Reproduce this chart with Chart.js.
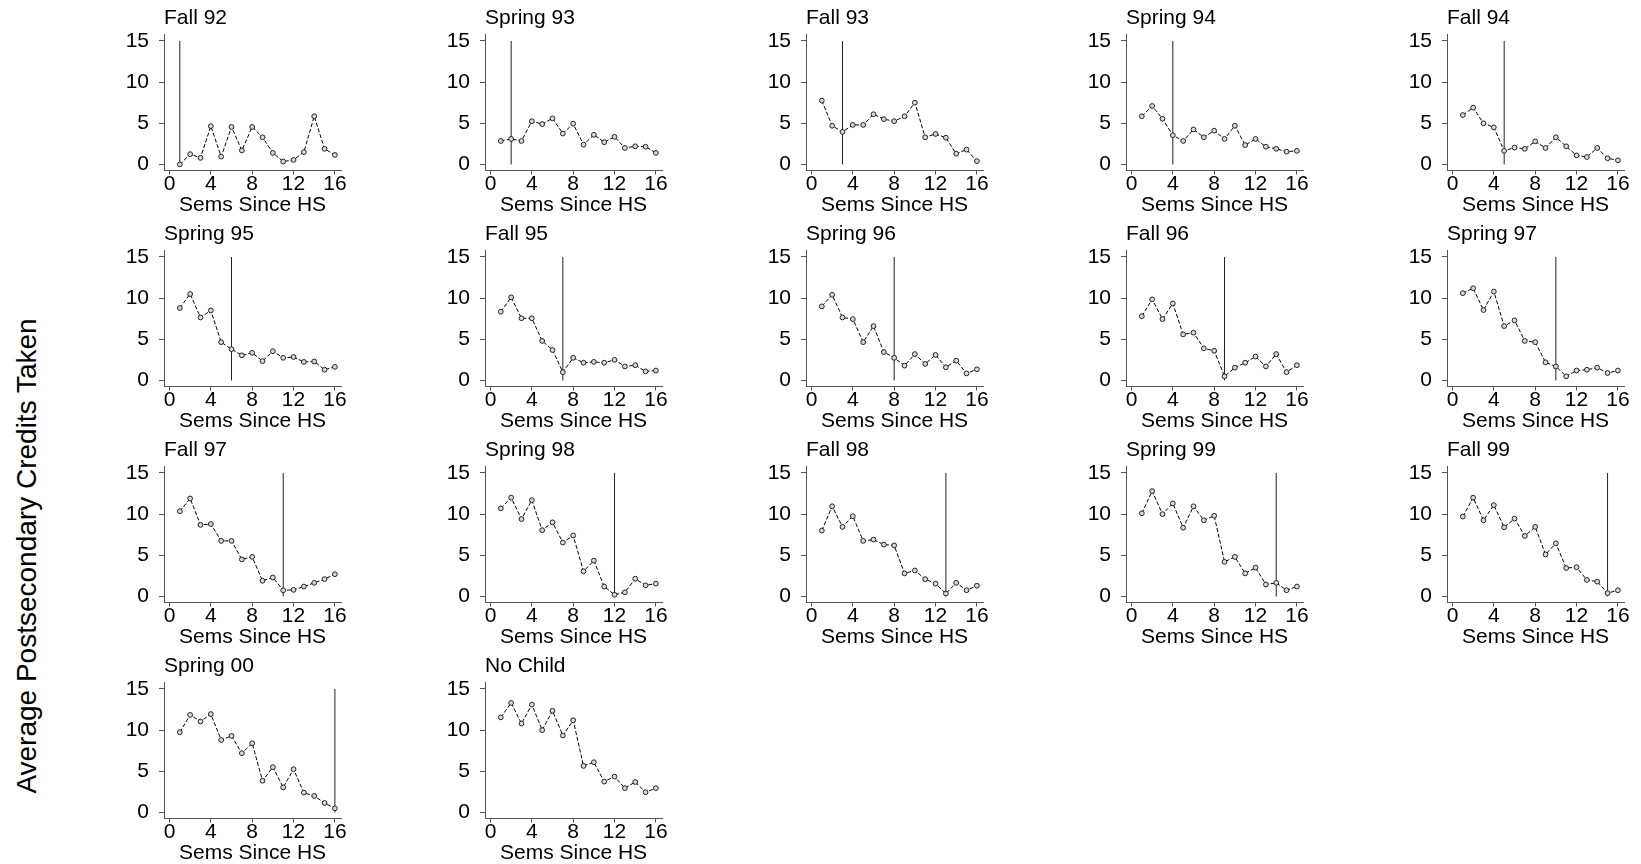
<!DOCTYPE html>
<html>
<head>
<meta charset="utf-8">
<title>Average Postsecondary Credits Taken</title>
<script src="https://cdn.jsdelivr.net/npm/chart.js@4.4.0/dist/chart.umd.min.js"></script>
<style>
  body { margin: 0; background: #fff; }
  #page {
    position: relative;
    width: 1641px;
    height: 864px;
    overflow: hidden;
    font-family: "Liberation Sans", Arial, sans-serif;
  }
  #page canvas { position: absolute; }
  #yTitle {
    position: absolute;
    left: 27px;
    top: 556px;
    transform: translate(-50%, -50%) rotate(-90deg);
    white-space: nowrap;
    font-size: 28px;
    color: #000;
  }
</style>
</head>
<body>
<div id="page">
  <div id="yTitle">Average Postsecondary Credits Taken</div>
</div>
<script>
// semesters since high school (x values) and axis ticks
const semesters = [1, 2, 3, 4, 5, 6, 7, 8, 9, 10, 11, 12, 13, 14, 15, 16];
const xTicks = [0, 4, 8, 12, 16];
const yTicks = [0, 5, 10, 15];

// panel names and the semester of the child's birth (vertical line)
const panelNames = [
  "Fall 92", "Spring 93", "Fall 93", "Spring 94", "Fall 94",
  "Spring 95", "Fall 95", "Spring 96", "Fall 96", "Spring 97",
  "Fall 97", "Spring 98", "Fall 98", "Spring 99", "Fall 99",
  "Spring 00", "No Child",
];
const birthSemester = [1, 2, 3, 4, 5, 6, 7, 8, 9, 10, 11, 12, 13, 14, 15, 16, null];

// average credits per semester, one array per panel
const fall92 = [0.0, 1.25, 0.8, 4.65, 0.95, 4.55, 1.7, 4.55, 3.3, 1.4, 0.35, 0.55, 1.5, 5.85, 1.9, 1.15];
const spring93 = [2.85, 3.1, 2.85, 5.25, 4.9, 5.6, 3.75, 4.95, 2.4, 3.6, 2.7, 3.35, 2.0, 2.2, 2.15, 1.4];
const fall93 = [7.75, 4.7, 3.95, 4.8, 4.8, 6.1, 5.5, 5.25, 5.85, 7.5, 3.3, 3.7, 3.25, 1.3, 1.8, 0.4];
const spring94 = [5.85, 7.1, 5.55, 3.55, 2.85, 4.25, 3.3, 4.1, 3.1, 4.7, 2.35, 3.1, 2.15, 1.9, 1.55, 1.65];
const fall94 = [6.0, 6.9, 5.0, 4.5, 1.65, 2.05, 1.9, 2.8, 2.0, 3.3, 2.2, 1.1, 0.9, 2.0, 0.75, 0.5];
const spring95 = [8.8, 10.5, 7.65, 8.5, 4.65, 3.8, 3.05, 3.35, 2.35, 3.55, 2.75, 2.85, 2.25, 2.3, 1.3, 1.65];
const fall95 = [8.35, 10.1, 7.55, 7.55, 4.8, 3.7, 1.0, 2.75, 2.15, 2.25, 2.15, 2.5, 1.7, 1.85, 1.1, 1.2];
const spring96 = [9.0, 10.4, 7.65, 7.45, 4.65, 6.6, 3.45, 2.75, 1.8, 3.2, 2.0, 3.1, 1.6, 2.4, 0.85, 1.35];
const fall96 = [7.8, 9.85, 7.45, 9.35, 5.6, 5.8, 3.9, 3.6, 0.5, 1.55, 2.15, 2.9, 1.7, 3.2, 1.0, 1.85];
const spring97 = [10.6, 11.2, 8.55, 10.8, 6.6, 7.3, 4.8, 4.65, 2.2, 1.7, 0.5, 1.2, 1.3, 1.55, 0.9, 1.2];
const fall97 = [10.35, 11.9, 8.7, 8.8, 6.75, 6.75, 4.5, 4.8, 1.9, 2.3, 0.75, 0.8, 1.2, 1.65, 2.1, 2.7];
const spring98 = [10.7, 12.0, 9.4, 11.7, 8.05, 9.0, 6.55, 7.4, 3.05, 4.35, 1.2, 0.2, 0.5, 2.15, 1.35, 1.55];
const fall98 = [8.0, 10.95, 8.45, 9.75, 6.75, 6.9, 6.3, 6.2, 2.8, 3.15, 2.1, 1.55, 0.35, 1.65, 0.75, 1.3];
const spring99 = [10.1, 12.8, 10.0, 11.3, 8.35, 10.95, 9.25, 9.8, 4.2, 4.8, 2.8, 3.5, 1.45, 1.65, 0.75, 1.2];
const fall99 = [9.7, 12.0, 9.25, 11.1, 8.4, 9.45, 7.35, 8.45, 5.1, 6.45, 3.45, 3.55, 2.0, 1.8, 0.4, 0.75];
const spring00 = [9.75, 11.85, 11.05, 11.95, 8.8, 9.3, 7.2, 8.4, 3.85, 5.5, 3.05, 5.25, 2.4, 2.0, 1.15, 0.5];
const noChild = [11.55, 13.3, 10.8, 13.1, 10.0, 12.35, 9.35, 11.2, 5.65, 6.1, 3.75, 4.35, 2.95, 3.7, 2.45, 2.95];

const panelValues = [
  fall92, spring93, fall93, spring94, fall94,
  spring95, fall95, spring96, fall96, spring97,
  fall97, spring98, fall98, spring99, fall99,
  spring00, noChild,
];

// grid geometry (px)
const firstAxisX = 164;
const colStep = 320.8;
const rowStep = 216;
const yScaleWidth = 60;
const canvasWidth = 260;
const canvasHeight = 216;
const plotWidth = 177.1;
const topPad = 34.8;
const xScaleHeight = 45.4;

const fontFamily = "'Liberation Sans', Arial, sans-serif";
const axisColor = "#555";

/**
 * Draws the panel name above the plot, left aligned with the y axis
 */
const panelTitlePlugin = {
  id: "panelTitle",
  afterDraw: (chart, args, opts) => {
    const { ctx, chartArea } = chart;
    ctx.save();
    ctx.font = `21px ${fontFamily}`;
    ctx.fillStyle = "#000";
    ctx.textBaseline = "alphabetic";
    ctx.fillText(opts.text, chartArea.left, 24);
    ctx.restore();
  },
};

/**
 * Builds one small panel
 * @param {HTMLCanvasElement} canvas
 * @param {string} name
 * @param {number[]} values
 * @param {number|null} birth
 */
const makePanel = (canvas, name, values, birth) => {
  const datasets = [
    {
      data: semesters.map((s, i) => ({ x: s, y: values[i] })),
      borderColor: "#000",
      borderWidth: 1,
      borderDash: [4, 2],
      pointRadius: 2.4,
      pointBorderWidth: 1,
      pointBorderColor: "#222",
      pointBackgroundColor: "#d8d8d8",
      tension: 0,
    },
  ];
  if (birth !== null) {
    datasets.push({
      data: [{ x: birth, y: yTicks[0] }, { x: birth, y: yTicks[yTicks.length - 1] }],
      borderColor: "#222",
      borderWidth: 1,
      pointRadius: 0,
    });
  }

  return new Chart(canvas.getContext("2d"), {
    type: "line",
    data: { datasets },
    plugins: [panelTitlePlugin],
    options: {
      responsive: false,
      animation: false,
      events: [],
      layout: {
        padding: { top: topPad, left: 0, right: canvasWidth - yScaleWidth - plotWidth, bottom: 0 },
      },
      scales: {
        x: {
          type: "linear",
          min: -0.53,
          max: 16.6,
          afterBuildTicks: (scale) => {
            scale.ticks = xTicks.map((v) => ({ value: v }));
          },
          afterFit: (scale) => {
            scale.height = xScaleHeight;
            scale.paddingLeft = 0;
            scale.paddingRight = 0;
          },
          ticks: {
            autoSkip: false,
            maxRotation: 0,
            padding: -1,
            color: "#000",
            font: { family: fontFamily, size: 21, lineHeight: 1 },
          },
          grid: { drawOnChartArea: false, drawTicks: true, tickLength: 4, color: axisColor },
          border: { display: true, color: axisColor, width: 1 },
          title: {
            display: true,
            text: "Sems Since HS",
            color: "#000",
            padding: 0,
            font: { family: fontFamily, size: 21, lineHeight: 1 },
          },
        },
        y: {
          type: "linear",
          min: -0.75,
          max: 15.75,
          afterBuildTicks: (scale) => {
            scale.ticks = yTicks.map((v) => ({ value: v }));
          },
          afterFit: (scale) => {
            scale.width = yScaleWidth;
            scale.paddingTop = 0;
            scale.paddingBottom = 0;
          },
          ticks: {
            padding: 10,
            color: "#000",
            font: { family: fontFamily, size: 21, lineHeight: 1 },
          },
          grid: { drawOnChartArea: false, drawTicks: true, tickLength: 5, color: axisColor },
          border: { display: true, color: axisColor, width: 1 },
        },
      },
      plugins: {
        legend: { display: false },
        tooltip: { enabled: false },
        panelTitle: { text: name },
      },
    },
  });
};

const page = document.getElementById("page");

panelNames.forEach((name, i) => {
  const col = i % 5;
  const row = Math.floor(i / 5);
  const canvas = document.createElement("canvas");
  canvas.width = canvasWidth;
  canvas.height = canvasHeight;
  canvas.style.left = `${firstAxisX + colStep * col - yScaleWidth}px`;
  canvas.style.top = `${rowStep * row}px`;
  page.appendChild(canvas);
  makePanel(canvas, name, panelValues[i], birthSemester[i]);
});
</script>
</body>
</html>
